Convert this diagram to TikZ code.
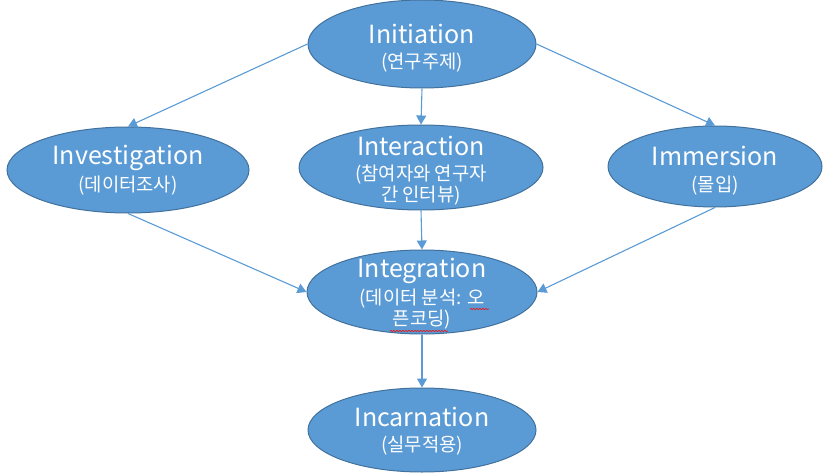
\documentclass[tikz,border=0pt]{standalone}
\usepackage{fontspec}
\setmainfont{Carlito}
\newfontfamily\kr{Noto Sans CJK KR}
\usetikzlibrary{shapes.geometric,arrows.meta,decorations.pathmorphing}
\definecolor{ofblue}{HTML}{5B9BD5}
\definecolor{ofedge}{HTML}{41719C}
\definecolor{spellred}{HTML}{E02020}
\newcommand{\ttlfont}{\fontsize{25}{27}\selectfont}
\newcommand{\subfont}{\kr\fontsize{18.8}{21}\selectfont}
\begin{document}
\begin{tikzpicture}[x=1pt,y=-1pt,
  ell/.style={ellipse,draw=ofedge,line width=1pt,fill=ofblue,inner sep=0pt},
  lbl/.style={text=white,align=center,inner sep=0pt,anchor=base,font=\subfont},
  conn/.style={draw=ofblue,line width=1.1pt,-{Triangle[length=9pt,width=10pt]}},
  spell/.style={draw=spellred,line width=0.7pt,decorate,decoration={snake,amplitude=0.7pt,segment length=3pt}}]
\useasboundingbox (0,0) rectangle (826,473);

% ellipses
\node[ell,minimum width=228pt,minimum height=88pt] (init)  at (422,44)    {};
\node[ell,minimum width=244pt,minimum height=85pt] (inter) at (421,167.5) {};
\node[ell,minimum width=242pt,minimum height=86pt] (inv)   at (128,170)   {};
\node[ell,minimum width=214pt,minimum height=81pt] (imm)   at (715,166.5) {};
\node[ell,minimum width=230pt,minimum height=84pt] (integ) at (422,292)   {};
\node[ell,minimum width=228pt,minimum height=84pt] (inc)   at (422,430)   {};

% texts (base anchor = baseline of last line)
\node[lbl] (initT)  at ([yshift=-25pt]init.center)   {{\ttlfont Initiation}\\[4pt](연구주제)};
\node[lbl] (interT) at ([yshift=-33.5pt]inter.center) {{\ttlfont Interaction}\\[4pt](참여자와 연구자\\간 인터뷰)};
\node[lbl] (invT)   at ([yshift=-21pt]inv.center)    {{\ttlfont Investigation}\\[4pt](데이터조사)};
\node[lbl] (immT)   at ([yshift=-24.5pt]imm.center)  {{\ttlfont Immersion}\\[4pt](몰입)};
\node[lbl] (integT) at ([yshift=-33pt]integ.center)  {{\ttlfont Integration}\\[4pt](데이터 분석: 오\\픈코딩)};
\node[lbl] (incT)   at ([yshift=-21pt]inc.center)    {{\ttlfont Incarnation}\\[4pt](실무적용)};

% connectors
\draw[conn] (init.west)  -- (inv.north);
\draw[conn] (init.south) -- (inter.north);
\draw[conn] (init.east)  -- (imm.north);
\draw[conn] (inv.south)  -- (integ.west);
\draw[conn] (inter.south) -- (integ.north);
\draw[conn] (imm.south)  -- (integ.east);
\draw[conn] (integ.south) -- (inc.north);

% spell-check underlines
\draw[spell] (470,309) -- (489,309);
\draw[spell] (390,331) -- (448,331);
\end{tikzpicture}
\end{document}
